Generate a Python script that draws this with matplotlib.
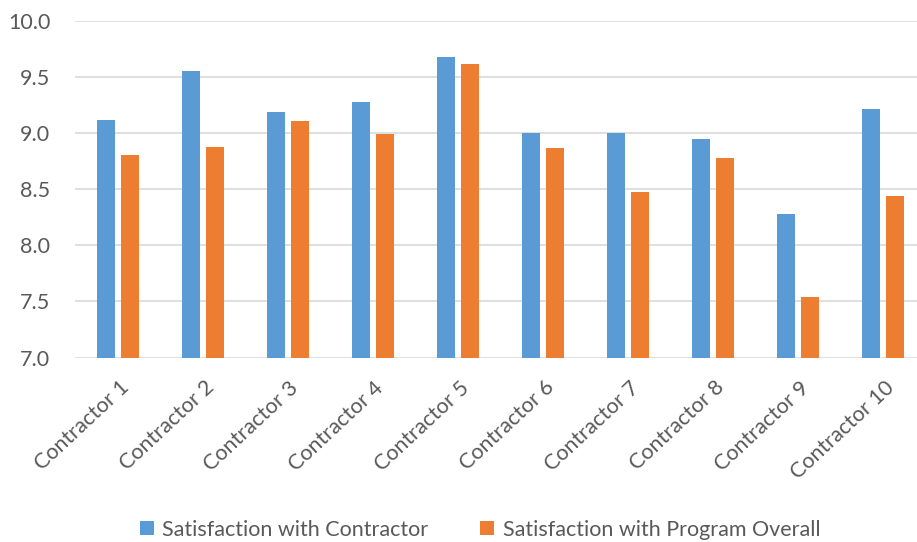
import matplotlib.pyplot as plt
import matplotlib.transforms as mtransforms
import numpy as np

categories = ['Contractor 1', 'Contractor 2', 'Contractor 3', 'Contractor 4', 'Contractor 5',
              'Contractor 6', 'Contractor 7', 'Contractor 8', 'Contractor 9', 'Contractor 10']
contractor = [9.12, 9.56, 9.19, 9.28, 9.68, 9.00, 9.00, 8.95, 8.28, 9.22]
program = [8.81, 8.88, 9.11, 8.99, 9.62, 8.87, 8.48, 8.78, 7.54, 8.44]
yticks = [7.0, 7.5, 8.0, 8.5, 9.0, 9.5, 10.0]

plt.rcParams['font.family'] = ['Lato', 'DejaVu Sans']

fig = plt.figure(figsize=(9.17, 5.42), dpi=100)
ax = fig.add_axes([0.0823, 0.3404, 0.927, 0.6203])

x = np.arange(len(categories))
w = 0.22
ax.bar(x - 0.14, contractor, w, color='#5b9bd5', label='Satisfaction with Contractor', zorder=3)
ax.bar(x + 0.14, program, w, color='#ed7d31', label='Satisfaction with Program Overall', zorder=3)

ax.set_xlim(-0.5, len(categories) - 0.5)
ax.set_ylim(7.0, 10.0)
ax.set_yticks(yticks)
ax.set_yticklabels([f'{v:.1f}' for v in yticks])
ax.yaxis.grid(True, color='#d9d9d9', linewidth=1.2, zorder=0)
for s in ax.spines.values():
    s.set_visible(False)
ax.tick_params(axis='both', length=0, labelsize=15.5, labelcolor='#595959')
ax.tick_params(axis='y', pad=18)

ax.set_xticks(x)
ax.set_xticklabels(categories, rotation=43, ha='right', rotation_mode='anchor')
# push rotated labels so their ends sit just under each category
offset = mtransforms.ScaledTranslation(0.01, -0.15, fig.dpi_scale_trans)
for lbl in ax.get_xticklabels():
    lbl.set_transform(lbl.get_transform() + offset)

leg = ax.legend(loc='lower center', bbox_to_anchor=(0.5 * 0.917 / 0.927 - 0.0823 / 0.927 + 0.07, -0.6),
                ncol=2, frameon=False, fontsize=15.5, handlelength=0.65, handleheight=0.65,
                columnspacing=2.4, handletextpad=0.4)
for t in leg.get_texts():
    t.set_color('#595959')

fig.savefig('out.png', dpi=100)
